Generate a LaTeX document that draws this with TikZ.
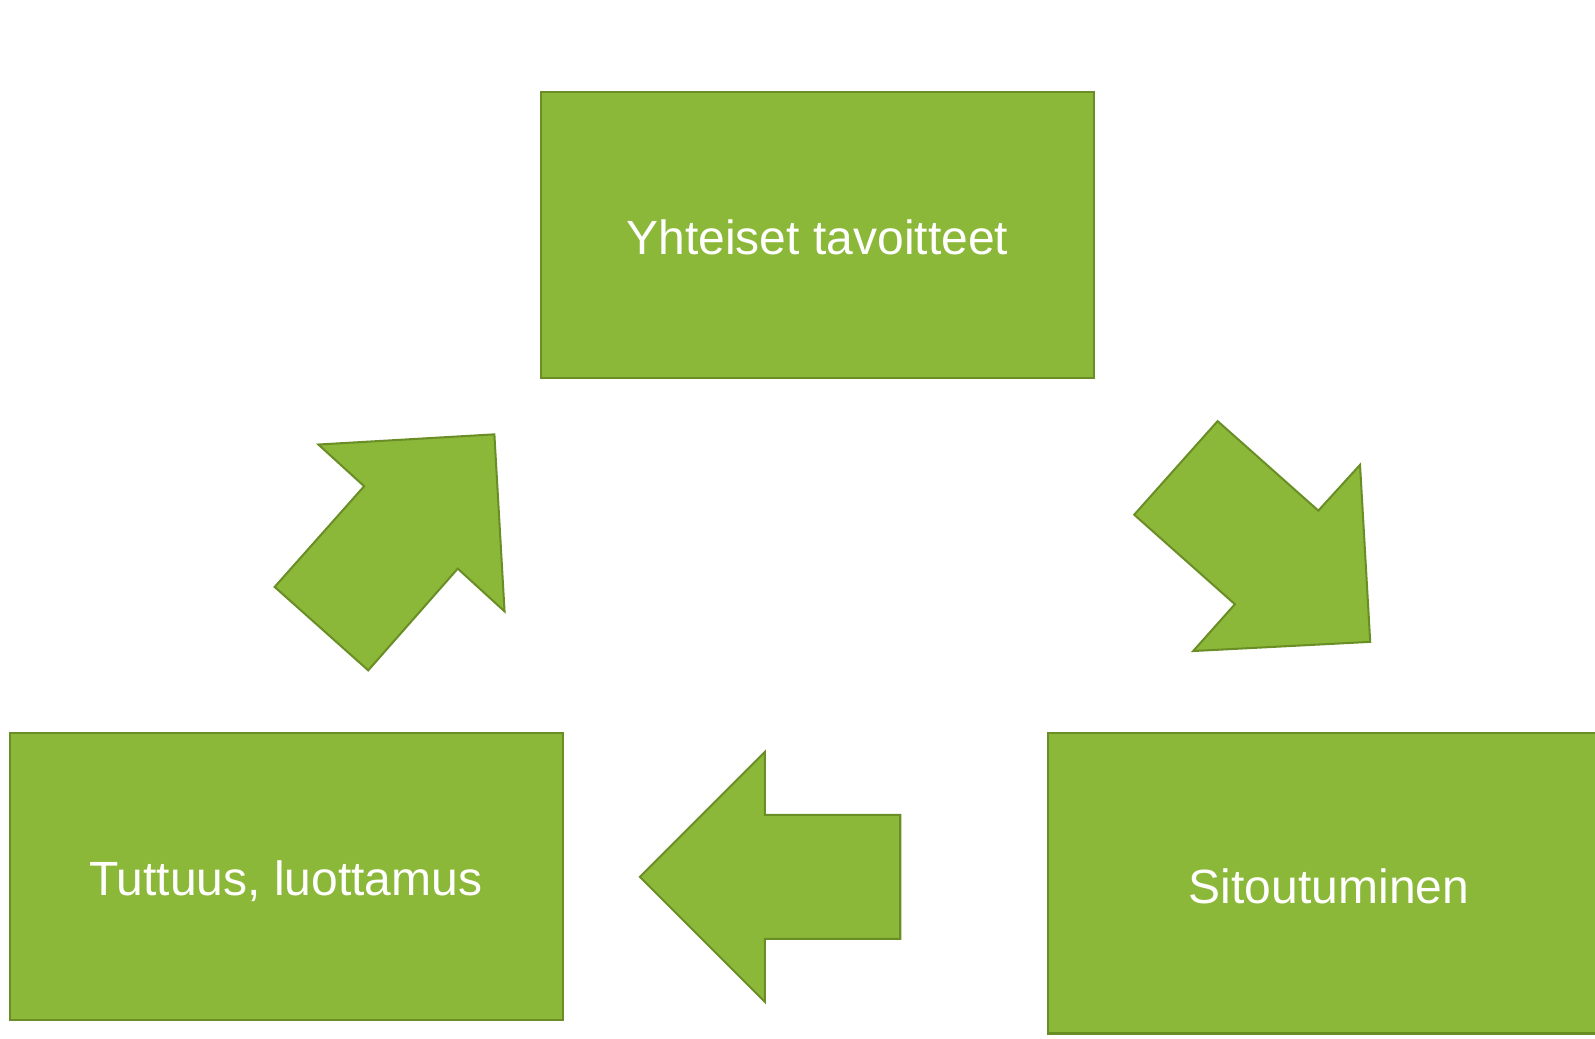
\documentclass[tikz,border=0pt]{standalone}
\usepackage{fontspec}
\setmainfont{Liberation Sans}
\definecolor{boxfill}{RGB}{140,184,58}
\definecolor{boxline}{RGB}{106,142,38}
\begin{document}
\begin{tikzpicture}[x=0.75pt,y=-0.75pt,
  greenshape/.style={fill=boxfill,draw=boxline,line width=1.5pt,line join=miter},
  lbl/.style={text=white,font=\fontsize{35.4pt}{40pt}\selectfont,anchor=base,inner sep=0pt}]
\useasboundingbox (0,0) rectangle (1568,1021);
\clip (0,0) rectangle (1568,1021);
% boxes
\draw[greenshape] (532,90) rectangle (1075,372);
\draw[greenshape] (10,721) rectangle (553,1003);
\draw[greenshape] (1030,721) rectangle (1610,1016);
% labels
\node[lbl] (top) at (803.5,250) {Yhteiset tavoitteet};
\node[lbl] (left) at (281,880) {Tuttuus, luottamus};
\node[lbl] (right) at (1306.5,888) {Sitoutuminen};
% arrows
\draw[greenshape] (313,437) -- (486,427) -- (496,601) -- (450,559) -- (362,659) -- (270,577) -- (358,478) -- cycle;
\draw[greenshape] (1197,414) -- (1296,502) -- (1337,457) -- (1347,631) -- (1173,640) -- (1214,594) -- (1115,506) -- cycle;
\draw[greenshape] (629,862) -- (752,739) -- (752,801) -- (885,801) -- (885,923) -- (752,923) -- (752,985) -- cycle;
\end{tikzpicture}
\end{document}
